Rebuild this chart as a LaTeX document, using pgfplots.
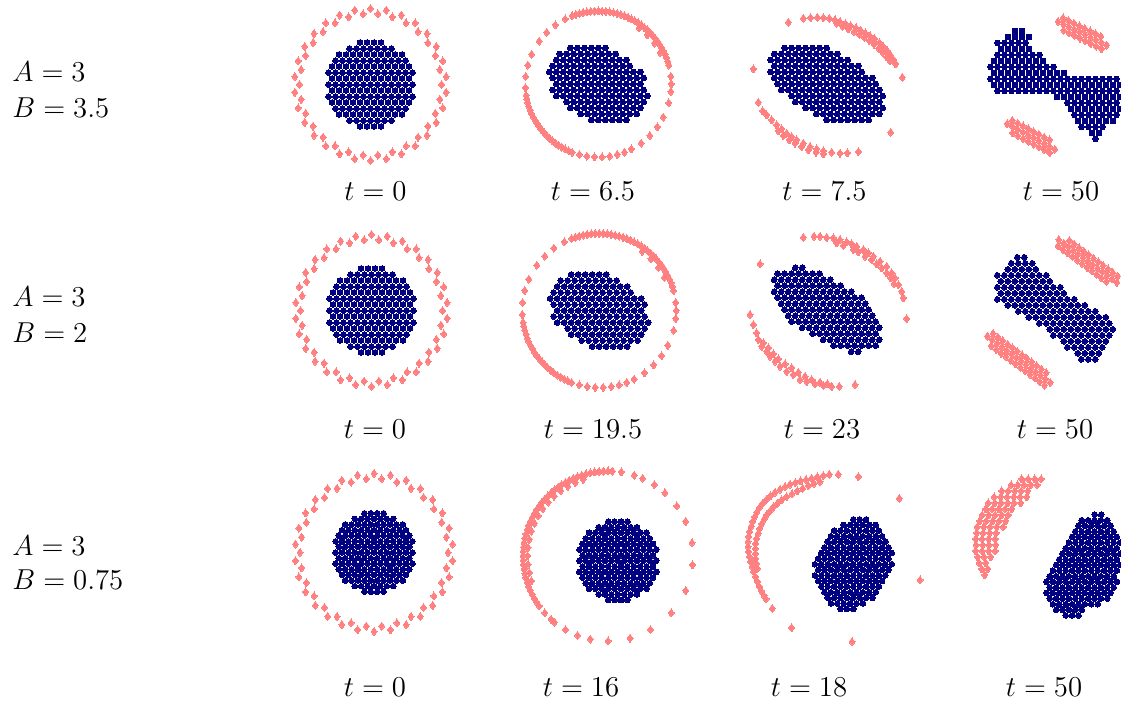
\documentclass[border=0pt]{standalone}
\usepackage{pgfplots}
\usepackage{pgfplotstable}
\pgfplotsset{compat=1.18}
\definecolor{cellblue}{RGB}{0,0,128}
\definecolor{tracerred}{RGB}{255,128,128}
\pgfplotsset{
  panel/.style={hide axis, scale only axis, x=0.5pt, y=0.5pt,
    xmin=-110, xmax=110, ymin=-110, ymax=110, clip=false, anchor=center},
  cells/.style={only marks, mark=*, mark size=1.42pt, color=cellblue, mark options={line width=0pt}},
  tracers/.style={only marks, mark=diamond*, mark size=2pt, color=tracerred, mark options={line width=0pt}},
}

% initial disk of cells (rows 1 and 2)
\pgfplotstableread[row sep=\\]{x y\\
-42 0\\ -35 0\\ -28 0\\ -21 0\\ -14 0\\ -7 0\\ 0 0\\ 7 0\\ 14 0\\ 21 0\\ 28 0\\ 35 0\\ 42 0\\
-38.5 6\\ -31.5 6\\ -24.5 6\\ -17.5 6\\ -10.5 6\\ -3.5 6\\ 3.5 6\\ 10.5 6\\ 17.5 6\\ 24.5 6\\ 31.5 6\\ 38.5 6\\
-38.5 -6\\ -31.5 -6\\ -24.5 -6\\ -17.5 -6\\ -10.5 -6\\ -3.5 -6\\ 3.5 -6\\ 10.5 -6\\ 17.5 -6\\ 24.5 -6\\ 31.5 -6\\ 38.5 -6\\
-42 12\\ -35 12\\ -28 12\\ -21 12\\ -14 12\\ -7 12\\ 0 12\\ 7 12\\ 14 12\\ 21 12\\ 28 12\\ 35 12\\ 42 12\\
-42 -12\\ -35 -12\\ -28 -12\\ -21 -12\\ -14 -12\\ -7 -12\\ 0 -12\\ 7 -12\\ 14 -12\\ 21 -12\\ 28 -12\\ 35 -12\\ 42 -12\\
-38.5 18\\ -31.5 18\\ -24.5 18\\ -17.5 18\\ -10.5 18\\ -3.5 18\\ 3.5 18\\ 10.5 18\\ 17.5 18\\ 24.5 18\\ 31.5 18\\ 38.5 18\\
-38.5 -18\\ -31.5 -18\\ -24.5 -18\\ -17.5 -18\\ -10.5 -18\\ -3.5 -18\\ 3.5 -18\\ 10.5 -18\\ 17.5 -18\\ 24.5 -18\\ 31.5 -18\\ 38.5 -18\\
-35 24\\ -28 24\\ -21 24\\ -14 24\\ -7 24\\ 0 24\\ 7 24\\ 14 24\\ 21 24\\ 28 24\\ 35 24\\
-35 -24\\ -28 -24\\ -21 -24\\ -14 -24\\ -7 -24\\ 0 -24\\ 7 -24\\ 14 -24\\ 21 -24\\ 28 -24\\ 35 -24\\
-31.5 30\\ -24.5 30\\ -17.5 30\\ -10.5 30\\ -3.5 30\\ 3.5 30\\ 10.5 30\\ 17.5 30\\ 24.5 30\\ 31.5 30\\
-31.5 -30\\ -24.5 -30\\ -17.5 -30\\ -10.5 -30\\ -3.5 -30\\ 3.5 -30\\ 10.5 -30\\ 17.5 -30\\ 24.5 -30\\ 31.5 -30\\
-21 36\\ -14 36\\ -7 36\\ 0 36\\ 7 36\\ 14 36\\ 21 36\\
-21 -36\\ -14 -36\\ -7 -36\\ 0 -36\\ 7 -36\\ 14 -36\\ 21 -36\\
-10.5 42\\ -3.5 42\\ 3.5 42\\ 10.5 42\\
-10.5 -42\\ -3.5 -42\\ 3.5 -42\\ 10.5 -42\\
}\diskA

% initial tracer ring (rows 1 and 2)
\pgfplotstableread[row sep=\\]{x y\\
71 0\\ -71 0\\ 0 76\\ 0 -76\\
75.6 7.9\\ 69.4 14.8\\ 72.3 23.5\\ 64.9 28.9\\ 65.8 38\\ 57.4 41.7\\ 56.5 50.9\\ 47.5 52.8\\ 44.7 61.5\\ 35.5 61.5\\ 30.9 69.4\\ 21.9 67.5\\ 15.8 74.3\\ 7.4 70.6\\
-75.6 7.9\\ -69.4 14.8\\ -72.3 23.5\\ -64.9 28.9\\ -65.8 38\\ -57.4 41.7\\ -56.5 50.9\\ -47.5 52.8\\ -44.7 61.5\\ -35.5 61.5\\ -30.9 69.4\\ -21.9 67.5\\ -15.8 74.3\\ -7.4 70.6\\
-75.6 -7.9\\ -69.4 -14.8\\ -72.3 -23.5\\ -64.9 -28.9\\ -65.8 -38\\ -57.4 -41.7\\ -56.5 -50.9\\ -47.5 -52.8\\ -44.7 -61.5\\ -35.5 -61.5\\ -30.9 -69.4\\ -21.9 -67.5\\ -15.8 -74.3\\ -7.4 -70.6\\
75.6 -7.9\\ 69.4 -14.8\\ 72.3 -23.5\\ 64.9 -28.9\\ 65.8 -38\\ 57.4 -41.7\\ 56.5 -50.9\\ 47.5 -52.8\\ 44.7 -61.5\\ 35.5 -61.5\\ 30.9 -69.4\\ 21.9 -67.5\\ 15.8 -74.3\\ 7.4 -70.6\\
}\ringA

% initial disk of cells (row 3)
\pgfplotstableread[row sep=\\]{x y\\
-38.4 0\\ -32 0\\ -25.6 0\\ -19.2 0\\ -12.8 0\\ -6.4 0\\ 0 0\\ 6.4 0\\ 12.8 0\\ 19.2 0\\ 25.6 0\\ 32 0\\ 38.4 0\\
-35.2 5.6\\ -28.8 5.6\\ -22.4 5.6\\ -16 5.6\\ -9.6 5.6\\ -3.2 5.6\\ 3.2 5.6\\ 9.6 5.6\\ 16 5.6\\ 22.4 5.6\\ 28.8 5.6\\ 35.2 5.6\\
-35.2 -5.6\\ -28.8 -5.6\\ -22.4 -5.6\\ -16 -5.6\\ -9.6 -5.6\\ -3.2 -5.6\\ 3.2 -5.6\\ 9.6 -5.6\\ 16 -5.6\\ 22.4 -5.6\\ 28.8 -5.6\\ 35.2 -5.6\\
-38.4 11.2\\ -32 11.2\\ -25.6 11.2\\ -19.2 11.2\\ -12.8 11.2\\ -6.4 11.2\\ 0 11.2\\ 6.4 11.2\\ 12.8 11.2\\ 19.2 11.2\\ 25.6 11.2\\ 32 11.2\\ 38.4 11.2\\
-38.4 -11.2\\ -32 -11.2\\ -25.6 -11.2\\ -19.2 -11.2\\ -12.8 -11.2\\ -6.4 -11.2\\ 0 -11.2\\ 6.4 -11.2\\ 12.8 -11.2\\ 19.2 -11.2\\ 25.6 -11.2\\ 32 -11.2\\ 38.4 -11.2\\
-35.2 16.8\\ -28.8 16.8\\ -22.4 16.8\\ -16 16.8\\ -9.6 16.8\\ -3.2 16.8\\ 3.2 16.8\\ 9.6 16.8\\ 16 16.8\\ 22.4 16.8\\ 28.8 16.8\\ 35.2 16.8\\
-35.2 -16.8\\ -28.8 -16.8\\ -22.4 -16.8\\ -16 -16.8\\ -9.6 -16.8\\ -3.2 -16.8\\ 3.2 -16.8\\ 9.6 -16.8\\ 16 -16.8\\ 22.4 -16.8\\ 28.8 -16.8\\ 35.2 -16.8\\
-32 22.4\\ -25.6 22.4\\ -19.2 22.4\\ -12.8 22.4\\ -6.4 22.4\\ 0 22.4\\ 6.4 22.4\\ 12.8 22.4\\ 19.2 22.4\\ 25.6 22.4\\ 32 22.4\\
-32 -22.4\\ -25.6 -22.4\\ -19.2 -22.4\\ -12.8 -22.4\\ -6.4 -22.4\\ 0 -22.4\\ 6.4 -22.4\\ 12.8 -22.4\\ 19.2 -22.4\\ 25.6 -22.4\\ 32 -22.4\\
-28.8 28\\ -22.4 28\\ -16 28\\ -9.6 28\\ -3.2 28\\ 3.2 28\\ 9.6 28\\ 16 28\\ 22.4 28\\ 28.8 28\\
-28.8 -28\\ -22.4 -28\\ -16 -28\\ -9.6 -28\\ -3.2 -28\\ 3.2 -28\\ 9.6 -28\\ 16 -28\\ 22.4 -28\\ 28.8 -28\\
-19.2 33.6\\ -12.8 33.6\\ -6.4 33.6\\ 0 33.6\\ 6.4 33.6\\ 12.8 33.6\\ 19.2 33.6\\
-19.2 -33.6\\ -12.8 -33.6\\ -6.4 -33.6\\ 0 -33.6\\ 6.4 -33.6\\ 12.8 -33.6\\ 19.2 -33.6\\
-9.6 39.2\\ -3.2 39.2\\ 3.2 39.2\\ 9.6 39.2\\
-9.6 -39.2\\ -3.2 -39.2\\ 3.2 -39.2\\ 9.6 -39.2\\
}\diskB

% initial tracer ring (row 3)
\pgfplotstableread[row sep=\\]{x y\\
74 0\\ -74 0\\ 0 79\\ 0 -79\\
78.6 8.3\\ 72.4 15.4\\ 75.1 24.4\\ 67.6 30.1\\ 68.4 39.5\\ 59.9 43.5\\ 58.7 52.9\\ 49.5 55\\ 46.4 63.9\\ 37 64.1\\ 32.1 72.2\\ 22.9 70.4\\ 16.4 77.3\\ 7.7 73.6\\
-78.6 8.3\\ -72.4 15.4\\ -75.1 24.4\\ -67.6 30.1\\ -68.4 39.5\\ -59.9 43.5\\ -58.7 52.9\\ -49.5 55\\ -46.4 63.9\\ -37 64.1\\ -32.1 72.2\\ -22.9 70.4\\ -16.4 77.3\\ -7.7 73.6\\
-78.6 -8.3\\ -72.4 -15.4\\ -75.1 -24.4\\ -67.6 -30.1\\ -68.4 -39.5\\ -59.9 -43.5\\ -58.7 -52.9\\ -49.5 -55\\ -46.4 -63.9\\ -37 -64.1\\ -32.1 -72.2\\ -22.9 -70.4\\ -16.4 -77.3\\ -7.7 -73.6\\
78.6 -8.3\\ 72.4 -15.4\\ 75.1 -24.4\\ 67.6 -30.1\\ 68.4 -39.5\\ 59.9 -43.5\\ 58.7 -52.9\\ 49.5 -55\\ 46.4 -63.9\\ 37 -64.1\\ 32.1 -72.2\\ 22.9 -70.4\\ 16.4 -77.3\\ 7.7 -73.6\\
}\ringB

% slightly stretched disk (t = 6.5 and t = 19.5)
\pgfplotstableread[row sep=\\]{x y\\
-28 36\\ -21 36\\ -14 36\\ -7 36\\ 0 36\\ 7 36\\
-38.5 30\\ -31.5 30\\ -24.5 30\\ -17.5 30\\ -10.5 30\\ -3.5 30\\ 3.5 30\\ 10.5 30\\ 17.5 30\\
-42 24\\ -35 24\\ -28 24\\ -21 24\\ -14 24\\ -7 24\\ 0 24\\ 7 24\\ 14 24\\ 21 24\\ 28 24\\
-45.5 18\\ -38.5 18\\ -31.5 18\\ -24.5 18\\ -17.5 18\\ -10.5 18\\ -3.5 18\\ 3.5 18\\ 10.5 18\\ 17.5 18\\ 24.5 18\\ 31.5 18\\
-49 12\\ -42 12\\ -35 12\\ -28 12\\ -21 12\\ -14 12\\ -7 12\\ 0 12\\ 7 12\\ 14 12\\ 21 12\\ 28 12\\ 35 12\\ 42 12\\
-45.5 6\\ -38.5 6\\ -31.5 6\\ -24.5 6\\ -17.5 6\\ -10.5 6\\ -3.5 6\\ 3.5 6\\ 10.5 6\\ 17.5 6\\ 24.5 6\\ 31.5 6\\ 38.5 6\\ 45.5 6\\
-42 0\\ -35 0\\ -28 0\\ -21 0\\ -14 0\\ -7 0\\ 0 0\\ 7 0\\ 14 0\\ 21 0\\ 28 0\\ 35 0\\ 42 0\\
-45.5 -6\\ -38.5 -6\\ -31.5 -6\\ -24.5 -6\\ -17.5 -6\\ -10.5 -6\\ -3.5 -6\\ 3.5 -6\\ 10.5 -6\\ 17.5 -6\\ 24.5 -6\\ 31.5 -6\\ 38.5 -6\\ 45.5 -6\\
-42 -12\\ -35 -12\\ -28 -12\\ -21 -12\\ -14 -12\\ -7 -12\\ 0 -12\\ 7 -12\\ 14 -12\\ 21 -12\\ 28 -12\\ 35 -12\\ 42 -12\\ 49 -12\\
-31.5 -18\\ -24.5 -18\\ -17.5 -18\\ -10.5 -18\\ -3.5 -18\\ 3.5 -18\\ 10.5 -18\\ 17.5 -18\\ 24.5 -18\\ 31.5 -18\\ 38.5 -18\\ 45.5 -18\\
-28 -24\\ -21 -24\\ -14 -24\\ -7 -24\\ 0 -24\\ 7 -24\\ 14 -24\\ 21 -24\\ 28 -24\\ 35 -24\\ 42 -24\\
-17.5 -30\\ -10.5 -30\\ -3.5 -30\\ 3.5 -30\\ 10.5 -30\\ 17.5 -30\\ 24.5 -30\\ 31.5 -30\\ 38.5 -30\\
-7 -36\\ 0 -36\\ 7 -36\\ 14 -36\\ 21 -36\\ 28 -36\\
}\ellA

\begin{document}
\begin{tikzpicture}
\path[use as bounding box] (0,0) rectangle (560.5pt,351pt);

% ---------------- row 1: A = 3, B = 3.5 ----------------
\begin{axis}[panel, at={(185.25pt,308.75pt)}]
\addplot[tracers] table {\ringA};
\addplot[cells] table {\diskA};
\end{axis}

\begin{axis}[panel, at={(299.15pt,309pt)}]
\addplot[tracers] table[row sep=\\] {x y\\
-26.2 68.2\\ -22.6 69.4\\ -18.9 70.5\\ -15.2 71.4\\ -11.4 72.1\\ -7.6 72.6\\ -3.8 72.9\\ 0 73\\ 3.8 72.9\\ 7.6 72.6\\ 11.4 72.1\\ 15.2 71.4\\ 18.9 70.5\\ 22.6 69.4\\ 26.2 68.2\\ 29.7 66.7\\ 33.1 65\\ 36.5 63.2\\ 39.8 61.2\\ 42.9 59.1\\ 45.9 56.7\\ 48.8 54.2\\ 51.6 51.6\\ 54.2 48.8\\ 56.7 45.9\\ 59.1 42.9\\ 61.2 39.8\\ 63.2 36.5\\ 65 33.1\\ 66.7 29.7\\ 68.2 26.2\\ 69.4 22.6\\ 70.5 18.9\\
40.8 56.1\\ 49 49\\ 56.1 40.8\\ 61.8 31.4\\
72.6 7.6\\ 73 0\\ 72.6 -7.6\\ 70.5 -18.9\\ 65 -33.1\\ 59.1 -42.9\\ 51.6 -51.6\\ 42.9 -59.1\\ 33.1 -65\\ 26.2 -68.2\\
18.9 -70.5\\ 11.4 -72.1\\ 3.8 -72.9\\ -3.8 -72.9\\ -11.4 -72.1\\ -18.9 -70.5\\
-26.2 -68.2\\ -29.7 -66.7\\ -33.1 -65\\ -36.5 -63.2\\ -39.8 -61.2\\ -42.9 -59.1\\ -45.9 -56.7\\ -48.8 -54.2\\ -51.6 -51.6\\ -54.2 -48.8\\ -56.7 -45.9\\ -59.1 -42.9\\ -61.2 -39.8\\ -63.2 -36.5\\ -65 -33.1\\ -66.7 -29.7\\ -68.2 -26.2\\ -69.4 -22.6\\ -70.5 -18.9\\ -71.4 -15.2\\ -72.1 -11.4\\
-72.9 -3.8\\ -72.6 7.6\\ -70.5 18.9\\ -66.7 29.7\\ -59.1 42.9\\ -51.6 51.6\\ -42.9 59.1\\ -33.1 65\\
};
\addplot[cells] table {\ellA};
\end{axis}

\begin{axis}[panel, at={(413.35pt,309pt)}]
\addplot[tracers] table[row sep=\\] {x y\\
-23.3 65.7\\ -16 66.3\\ -9.3 66.7\\ -3.3 66.3\\ 2.7 65.7\\ 8.3 64.3\\ 13.3 62.3\\ 18.7 60.3\\ 24 58.3\\ 29.3 56.3\\ 34 53.7\\ 38.7 51\\ 43.3 48\\ 48 45\\ 52.7 41.3\\ 56.7 37.3\\ 60.7 33\\ 64 28.7\\ 66.7 24.3\\ 69 20\\
10 60.7\\ 16 57.7\\ 21.7 55\\ 27.3 52.3\\ 32.7 49.7\\ 37.7 46.7\\ 42.7 43.3\\ 47.3 39.7\\ 52 35.7\\ 56 31.7\\ 60 27\\ 63.3 23\\
-38.3 61.7\\ -73.3 15\\ 75.7 6.7\\ 64 -48.3\\ 31.7 -67.7\\
-68.3 -18.3\\ -64 -27\\ -60 -31\\ -55 -36\\ -50 -41\\ -45 -45\\ -40 -49.3\\ -35 -52.7\\ -30 -56\\ -23.3 -59.3\\ -16.7 -62.7\\ -10 -65\\ -3.3 -67\\ 5 -68.3\\ 13.3 -69.3\\ 20.7 -69\\
-48.3 -47\\ -43.3 -51.7\\ -37.3 -56\\ -31.7 -59.3\\ -25 -62.7\\ -18.3 -66\\ -10.7 -68.3\\ -3.3 -70\\
};
\addplot[cells] table[row sep=\\] {x y\\
-42 36\\ -35 36\\ -28 36\\ -21 36\\ -14 36\\ -7 36\\ 0 36\\
-52.5 30\\ -45.5 30\\ -38.5 30\\ -31.5 30\\ -24.5 30\\ -17.5 30\\ -10.5 30\\ -3.5 30\\ 3.5 30\\ 10.5 30\\
-56 24\\ -49 24\\ -42 24\\ -35 24\\ -28 24\\ -21 24\\ -14 24\\ -7 24\\ 0 24\\ 7 24\\ 14 24\\ 21 24\\
-52.5 18\\ -45.5 18\\ -38.5 18\\ -31.5 18\\ -24.5 18\\ -17.5 18\\ -10.5 18\\ -3.5 18\\ 3.5 18\\ 10.5 18\\ 17.5 18\\ 24.5 18\\ 31.5 18\\
-56 12\\ -49 12\\ -42 12\\ -35 12\\ -28 12\\ -21 12\\ -14 12\\ -7 12\\ 0 12\\ 7 12\\ 14 12\\ 21 12\\ 28 12\\ 35 12\\
-52.5 6\\ -45.5 6\\ -38.5 6\\ -31.5 6\\ -24.5 6\\ -17.5 6\\ -10.5 6\\ -3.5 6\\ 3.5 6\\ 10.5 6\\ 17.5 6\\ 24.5 6\\ 31.5 6\\ 38.5 6\\ 45.5 6\\
-49 0\\ -42 0\\ -35 0\\ -28 0\\ -21 0\\ -14 0\\ -7 0\\ 0 0\\ 7 0\\ 14 0\\ 21 0\\ 28 0\\ 35 0\\ 42 0\\ 49 0\\
-45.5 -6\\ -38.5 -6\\ -31.5 -6\\ -24.5 -6\\ -17.5 -6\\ -10.5 -6\\ -3.5 -6\\ 3.5 -6\\ 10.5 -6\\ 17.5 -6\\ 24.5 -6\\ 31.5 -6\\ 38.5 -6\\ 45.5 -6\\ 52.5 -6\\
-35 -12\\ -28 -12\\ -21 -12\\ -14 -12\\ -7 -12\\ 0 -12\\ 7 -12\\ 14 -12\\ 21 -12\\ 28 -12\\ 35 -12\\ 42 -12\\ 49 -12\\ 56 -12\\
-31.5 -18\\ -24.5 -18\\ -17.5 -18\\ -10.5 -18\\ -3.5 -18\\ 3.5 -18\\ 10.5 -18\\ 17.5 -18\\ 24.5 -18\\ 31.5 -18\\ 38.5 -18\\ 45.5 -18\\ 52.5 -18\\
-21 -24\\ -14 -24\\ -7 -24\\ 0 -24\\ 7 -24\\ 14 -24\\ 21 -24\\ 28 -24\\ 35 -24\\ 42 -24\\ 49 -24\\ 56 -24\\
-10.5 -30\\ -3.5 -30\\ 3.5 -30\\ 10.5 -30\\ 17.5 -30\\ 24.5 -30\\ 31.5 -30\\ 38.5 -30\\ 45.5 -30\\ 52.5 -30\\
0 -36\\ 7 -36\\ 14 -36\\ 21 -36\\ 28 -36\\ 35 -36\\ 42 -36\\
};
\end{axis}

\begin{axis}[panel, at={(525pt,308.5pt)}]
\addplot[tracers] table[row sep=\\] {x y\\
8 63.5\\ 13.4 60.9\\ 18.8 58.3\\ 24.2 55.6\\ 29.6 53\\ 35 50.4\\ 40.4 47.8\\ 45.8 45.1\\ 51.2 42.5\\ 56.6 39.9\\
13.1 67.1\\ 18.5 64.5\\ 23.9 61.9\\ 29.3 59.2\\ 34.7 56.6\\ 40.1 54\\ 45.5 51.3\\ 50.9 48.7\\
13.7 54.7\\ 19.1 52.1\\ 24.5 49.4\\ 29.9 46.8\\ 35.3 44.2\\ 40.7 41.5\\ 46.1 38.9\\ 51.5 36.3\\
-42.8 -38.8\\ -37.5 -41.6\\ -32.3 -44.5\\ -27 -47.3\\ -21.7 -50.1\\ -16.4 -52.9\\ -11.1 -55.7\\ -5.8 -58.5\\ -0.5 -61.4\\ 4.8 -64.2\\
-37.6 -35.4\\ -32.3 -38.2\\ -27 -41\\ -21.7 -43.8\\ -16.4 -46.6\\ -11.1 -49.4\\ -5.8 -52.2\\ -0.5 -55\\
-37.5 -48\\ -32.2 -50.8\\ -26.9 -53.6\\ -21.6 -56.4\\ -16.3 -59.2\\ -11 -62\\ -5.7 -64.8\\ -0.4 -67.7\\
};
\addplot[cells] table[row sep=\\] {x y\\
-35 54\\ -28 54\\
-42 48\\ -35 48\\ -28 48\\ -21 48\\
-52.5 42\\ -45.5 42\\ -38.5 42\\ -31.5 42\\ -24.5 42\\
-49 36\\ -42 36\\ -35 36\\ -28 36\\ -21 36\\
-52.5 30\\ -45.5 30\\ -38.5 30\\ -31.5 30\\ -24.5 30\\ -17.5 30\\ -10.5 30\\
-56 24\\ -49 24\\ -42 24\\ -35 24\\ -28 24\\ -21 24\\ -14 24\\ -7 24\\
-59.5 18\\ -52.5 18\\ -45.5 18\\ -38.5 18\\ -31.5 18\\ -24.5 18\\ -17.5 18\\ -10.5 18\\ -3.5 18\\ 3.5 18\\
-56 12\\ -49 12\\ -42 12\\ -35 12\\ -28 12\\ -21 12\\ -14 12\\ -7 12\\ 0 12\\ 7 12\\ 14 12\\
-59.5 6\\ -52.5 6\\ -45.5 6\\ -38.5 6\\ -31.5 6\\ -24.5 6\\ -17.5 6\\ -10.5 6\\ -3.5 6\\ 3.5 6\\ 10.5 6\\ 17.5 6\\ 24.5 6\\ 31.5 6\\ 38.5 6\\ 45.5 6\\ 52.5 6\\ 59.5 6\\ 66.5 6\\
-56 0\\ -49 0\\ -42 0\\ -35 0\\ -28 0\\ -21 0\\ -14 0\\ -7 0\\ 0 0\\ 7 0\\ 14 0\\ 21 0\\ 28 0\\ 35 0\\ 42 0\\ 49 0\\ 56 0\\ 63 0\\ 70 0\\
-52.5 -6\\ -45.5 -6\\ -38.5 -6\\ -31.5 -6\\ -24.5 -6\\ -17.5 -6\\ -10.5 -6\\ -3.5 -6\\ 3.5 -6\\ 10.5 -6\\ 17.5 -6\\ 24.5 -6\\ 31.5 -6\\ 38.5 -6\\ 45.5 -6\\ 52.5 -6\\ 59.5 -6\\ 66.5 -6\\
7 -12\\ 14 -12\\ 21 -12\\ 28 -12\\ 35 -12\\ 42 -12\\ 49 -12\\ 56 -12\\ 63 -12\\ 70 -12\\
17.5 -18\\ 24.5 -18\\ 31.5 -18\\ 38.5 -18\\ 45.5 -18\\ 52.5 -18\\ 59.5 -18\\ 66.5 -18\\
21 -24\\ 28 -24\\ 35 -24\\ 42 -24\\ 49 -24\\ 56 -24\\ 63 -24\\ 70 -24\\
24.5 -30\\ 31.5 -30\\ 38.5 -30\\ 45.5 -30\\ 52.5 -30\\ 59.5 -30\\ 66.5 -30\\
28 -36\\ 35 -36\\ 42 -36\\ 49 -36\\ 56 -36\\ 63 -36\\
31.5 -42\\ 38.5 -42\\ 45.5 -42\\ 52.5 -42\\
42 -48\\ 49 -48\\
45.5 -54\\
};
\end{axis}

% ---------------- row 2: A = 3, B = 2 ----------------
\begin{axis}[panel, at={(185.75pt,195.75pt)}]
\addplot[tracers] table {\ringA};
\addplot[cells] table {\diskA};
\end{axis}

\begin{axis}[panel, at={(299.6pt,195.75pt)}]
\addplot[tracers] table[row sep=\\] {x y\\
-27.6 72\\ -23.8 73.2\\ -19.9 74.4\\ -16 75.3\\ -12 76.1\\ -8 76.6\\ -4 76.9\\ 0 77\\ 4 76.9\\ 8 76.6\\ 12 76.1\\ 16 75.3\\ 19.9 74.4\\ 23.8 73.2\\ 27.6 72\\ 31.3 70.4\\ 34.9 68.6\\ 38.5 66.7\\ 42 64.6\\ 45.3 62.4\\ 48.4 59.8\\ 51.5 57.2\\ 54.4 54.4\\ 57.2 51.5\\ 59.8 48.4\\ 62.4 45.3\\ 64.6 42\\ 66.7 38.5\\ 68.6 34.9\\ 70.4 31.3\\ 72 27.6\\ 73.2 23.8\\ 74.4 19.9\\
43 59.2\\ 51.7 51.7\\ 59.2 43\\ 65.2 33.1\\
76.6 8\\ 77 0\\ 76.6 -8\\ 74.4 -19.9\\ 68.6 -34.9\\ 62.4 -45.3\\ 54.4 -54.4\\ 45.3 -62.4\\ 34.9 -68.6\\ 27.6 -72\\
19.9 -74.4\\ 12 -76.1\\ 4 -76.9\\ -4 -76.9\\ -12 -76.1\\ -19.9 -74.4\\
-27.6 -72\\ -31.3 -70.4\\ -34.9 -68.6\\ -38.5 -66.7\\ -42 -64.6\\ -45.3 -62.4\\ -48.4 -59.8\\ -51.5 -57.2\\ -54.4 -54.4\\ -57.2 -51.5\\ -59.8 -48.4\\ -62.4 -45.3\\ -64.6 -42\\ -66.7 -38.5\\ -68.6 -34.9\\ -70.4 -31.3\\ -72 -27.6\\ -73.2 -23.8\\ -74.4 -19.9\\ -75.3 -16\\ -76.1 -12\\
-76.9 -4\\ -76.6 8\\ -74.4 19.9\\ -70.4 31.3\\ -62.4 45.3\\ -54.4 54.4\\ -45.3 62.4\\ -34.9 68.6\\
};
\addplot[cells] table {\ellA};
\end{axis}

\begin{axis}[panel, at={(413.35pt,196.15pt)}]
\addplot[tracers] table[row sep=\\] {x y\\
-23.3 72.3\\ -12.7 73.3\\ -6.7 73.3\\ 0 72.3\\ 6.7 71.7\\ 13.3 70\\ 20 67.7\\ 25 65.7\\ 30 63.3\\ 36.7 60\\ 41.7 56.7\\ 46.7 53.3\\ 53.3 48.3\\ 60 43.3\\ 65 36.7\\ 68.3 31.7\\ 71.7 25\\ 75 18.3\\ 76.7 11.7\\
10 66.7\\ 16.7 64.3\\ 26.7 60\\ 31.7 57.7\\ 38.3 53.3\\ 45 50\\ 50 45.7\\ 55 41.7\\ 60 36.7\\ 64 31.7\\ 67.3 26\\
-66.7 45.7\\ -76.7 -5\\ 80 -9\\ 28.3 -75\\
-73.3 -15\\ -70 -23.3\\ -68.3 -30\\ -65 -36.7\\ -60 -41.7\\ -56.7 -46.7\\ -51.7 -51.7\\ -46.7 -56.7\\ -40 -61.7\\ -33.3 -65\\ -26.7 -70\\ -20 -71.7\\ -11.7 -74.3\\ -3.3 -75.7\\ 5 -76.7\\ 12.7 -76.7\\
-63.3 -33.3\\ -58.3 -38.3\\ -53.3 -44.3\\ -48.3 -49.3\\ -41.7 -54.3\\ -35 -58.3\\ -28.3 -62.7\\ -21.7 -66.7\\ -15 -70\\ -6.7 -72.7\\ 0.7 -74.3\\
};
\addplot[cells] table[row sep=\\] {x y\\
-31.5 42\\ -24.5 42\\
-49 36\\ -42 36\\ -35 36\\ -28 36\\ -21 36\\ -14 36\\ -7 36\\
-52.5 30\\ -45.5 30\\ -38.5 30\\ -31.5 30\\ -24.5 30\\ -17.5 30\\ -10.5 30\\ -3.5 30\\ 3.5 30\\
-49 24\\ -42 24\\ -35 24\\ -28 24\\ -21 24\\ -14 24\\ -7 24\\ 0 24\\ 7 24\\ 14 24\\
-52.5 18\\ -45.5 18\\ -38.5 18\\ -31.5 18\\ -24.5 18\\ -17.5 18\\ -10.5 18\\ -3.5 18\\ 3.5 18\\ 10.5 18\\ 17.5 18\\ 24.5 18\\
-49 12\\ -42 12\\ -35 12\\ -28 12\\ -21 12\\ -14 12\\ -7 12\\ 0 12\\ 7 12\\ 14 12\\ 21 12\\ 28 12\\ 35 12\\
-45.5 6\\ -38.5 6\\ -31.5 6\\ -24.5 6\\ -17.5 6\\ -10.5 6\\ -3.5 6\\ 3.5 6\\ 10.5 6\\ 17.5 6\\ 24.5 6\\ 31.5 6\\ 38.5 6\\
-42 0\\ -35 0\\ -28 0\\ -21 0\\ -14 0\\ -7 0\\ 0 0\\ 7 0\\ 14 0\\ 21 0\\ 28 0\\ 35 0\\ 42 0\\
-38.5 -6\\ -31.5 -6\\ -24.5 -6\\ -17.5 -6\\ -10.5 -6\\ -3.5 -6\\ 3.5 -6\\ 10.5 -6\\ 17.5 -6\\ 24.5 -6\\ 31.5 -6\\ 38.5 -6\\ 45.5 -6\\
-35 -12\\ -28 -12\\ -21 -12\\ -14 -12\\ -7 -12\\ 0 -12\\ 7 -12\\ 14 -12\\ 21 -12\\ 28 -12\\ 35 -12\\ 42 -12\\ 49 -12\\
-24.5 -18\\ -17.5 -18\\ -10.5 -18\\ -3.5 -18\\ 3.5 -18\\ 10.5 -18\\ 17.5 -18\\ 24.5 -18\\ 31.5 -18\\ 38.5 -18\\ 45.5 -18\\ 52.5 -18\\
-14 -24\\ -7 -24\\ 0 -24\\ 7 -24\\ 14 -24\\ 21 -24\\ 28 -24\\ 35 -24\\ 42 -24\\ 49 -24\\
-3.5 -30\\ 3.5 -30\\ 10.5 -30\\ 17.5 -30\\ 24.5 -30\\ 31.5 -30\\ 38.5 -30\\ 45.5 -30\\ 52.5 -30\\
7 -36\\ 14 -36\\ 21 -36\\ 28 -36\\ 35 -36\\ 42 -36\\ 49 -36\\
24.5 -42\\ 31.5 -42\\
};
\end{axis}

\begin{axis}[panel, at={(526.65pt,195.35pt)}]
\addplot[tracers] table[row sep=\\] {x y\\
5.5 71.6\\ 10.4 68.1\\ 15.2 64.5\\ 20 61\\ 24.8 57.4\\ 29.7 53.9\\ 34.5 50.3\\ 39.3 46.7\\ 44.2 43.2\\ 49 39.6\\ 53.8 36.1\\ 58.7 32.5\\ 63.5 29\\
16 70.7\\ 20.9 67.2\\ 25.7 63.6\\ 30.5 60.1\\ 35.3 56.5\\ 40.2 53\\ 45 49.4\\ 49.8 45.8\\ 54.7 42.3\\ 59.5 38.7\\ 64.3 35.2\\
4.7 65.4\\ 9.5 61.9\\ 14.3 58.3\\ 19.2 54.8\\ 24 51.2\\ 28.8 47.7\\ 33.7 44.1\\ 38.5 40.5\\ 43.3 37\\ 48.1 33.4\\ 53 29.9\\
-65.9 -24.9\\ -61.1 -28.4\\ -56.2 -32\\ -51.4 -35.5\\ -46.6 -39.1\\ -41.7 -42.7\\ -36.9 -46.2\\ -32.1 -49.8\\ -27.3 -53.3\\ -22.4 -56.9\\ -17.6 -60.5\\ -12.8 -64\\ -7.9 -67.6\\ -3.1 -71.1\\
-60.2 -22.2\\ -55.4 -25.8\\ -50.6 -29.3\\ -45.7 -32.9\\ -40.9 -36.5\\ -36.1 -40\\ -31.2 -43.6\\ -26.4 -47.1\\ -21.6 -50.7\\ -16.8 -54.2\\ -11.9 -57.8\\ -7.1 -61.4\\
-61.9 -34.6\\ -57.1 -38.2\\ -52.3 -41.8\\ -47.4 -45.3\\ -42.6 -48.9\\ -37.8 -52.4\\ -32.9 -56\\ -28.1 -59.6\\ -23.3 -63.1\\ -18.4 -66.7\\ -13.6 -70.2\\ -8.8 -73.8\\
};
\addplot[cells] table[row sep=\\] {x y\\
-36 54\\ -29 54\\
-42 48\\ -35 48\\ -28 48\\ -21 48\\
-45.5 42\\ -38.5 42\\ -31.5 42\\ -24.5 42\\ -17.5 42\\
-56 36\\ -49 36\\ -42 36\\ -35 36\\ -28 36\\ -21 36\\ -14 36\\ -7 36\\
-52.5 30\\ -45.5 30\\ -38.5 30\\ -31.5 30\\ -24.5 30\\ -17.5 30\\ -10.5 30\\ -3.5 30\\
-56 24\\ -49 24\\ -42 24\\ -35 24\\ -28 24\\ -21 24\\ -14 24\\ -7 24\\ 0 24\\ 7 24\\
-52.5 18\\ -45.5 18\\ -38.5 18\\ -31.5 18\\ -24.5 18\\ -17.5 18\\ -10.5 18\\ -3.5 18\\ 3.5 18\\ 10.5 18\\
-56 12\\ -49 12\\ -42 12\\ -35 12\\ -28 12\\ -21 12\\ -14 12\\ -7 12\\ 0 12\\ 7 12\\ 14 12\\ 21 12\\
-45.5 6\\ -38.5 6\\ -31.5 6\\ -24.5 6\\ -17.5 6\\ -10.5 6\\ -3.5 6\\ 3.5 6\\ 10.5 6\\ 17.5 6\\ 24.5 6\\ 31.5 6\\
-35 0\\ -28 0\\ -21 0\\ -14 0\\ -7 0\\ 0 0\\ 7 0\\ 14 0\\ 21 0\\ 28 0\\ 35 0\\ 42 0\\
-24.5 -6\\ -17.5 -6\\ -10.5 -6\\ -3.5 -6\\ 3.5 -6\\ 10.5 -6\\ 17.5 -6\\ 24.5 -6\\ 31.5 -6\\ 38.5 -6\\ 45.5 -6\\ 52.5 -6\\
-14 -12\\ -7 -12\\ 0 -12\\ 7 -12\\ 14 -12\\ 21 -12\\ 28 -12\\ 35 -12\\ 42 -12\\ 49 -12\\ 56 -12\\
-3.5 -18\\ 3.5 -18\\ 10.5 -18\\ 17.5 -18\\ 24.5 -18\\ 31.5 -18\\ 38.5 -18\\ 45.5 -18\\ 52.5 -18\\ 59.5 -18\\
0 -24\\ 7 -24\\ 14 -24\\ 21 -24\\ 28 -24\\ 35 -24\\ 42 -24\\ 49 -24\\ 56 -24\\
10.5 -30\\ 17.5 -30\\ 24.5 -30\\ 31.5 -30\\ 38.5 -30\\ 45.5 -30\\ 52.5 -30\\
14 -36\\ 21 -36\\ 28 -36\\ 35 -36\\ 42 -36\\ 49 -36\\
24.5 -42\\ 31.5 -42\\ 38.5 -42\\ 45.5 -42\\
28 -48\\ 35 -48\\ 42 -48\\
};
\end{axis}

% ---------------- row 3: A = 3, B = 0.75 ----------------
\begin{axis}[panel, at={(187pt,74.75pt)}]
\addplot[tracers] table {\ringB};
\addplot[cells] table {\diskB};
\end{axis}

\begin{axis}[panel, at={(308.9pt,70.6pt)}]
\addplot[tracers] table[row sep=\\] {x y\\
-5.4 89.7\\ -9.8 89.8\\ -14.3 89.7\\ -18.7 89.3\\ -23.1 88.8\\ -27.5 88\\ -31.8 86.9\\ -36.1 85.6\\ -40.3 84.2\\ -44.4 82.5\\ -48.4 80.5\\ -52.3 78.4\\ -56.1 76.1\\ -59.8 73.6\\ -63.3 70.9\\ -66.7 68\\ -69.9 64.9\\ -73 61.7\\ -75.9 58.3\\ -78.6 54.8\\ -81.1 51.1\\ -83.4 47.3\\ -85.5 43.4\\ -87.5 39.4\\ -89.2 35.3\\ -90.6 31.1\\ -91.9 26.8\\ -92.9 22.5\\ -93.8 18.1\\ -94.3 13.7\\ -94.7 9.3\\ -94.8 4.8\\ -94.7 0.4\\ -94.3 -4.1\\ -93.8 -8.5\\ -92.9 -12.9\\ -91.9 -17.2\\ -90.6 -21.5\\ -89.2 -25.7\\ -87.5 -29.8\\ -85.5 -33.8\\ -83.4 -37.7\\ -81.1 -41.5\\ -78.6 -45.2\\
-34.7 81.4\\ -42.5 78.3\\ -50 74.5\\ -57.1 69.9\\ -63.7 64.6\\ -69.6 58.7\\ -74.9 52.1\\ -79.5 45\\ -83.3 37.5\\ -86.4 29.7\\ -88.5 21.5\\ -89.8 13.2\\ -90.3 4.8\\ -89.8 -3.6\\ -88.5 -11.9\\ -86.4 -20.1\\
-73 -52.1\\ -66.7 -58.4\\ -63.3 -61.3\\ -52.3 -68.8\\ -40.3 -74.6\\ -27.5 -78.3\\ -9.8 -80.2\\ 12.2 -77.3\\ 32.7 -68.8\\ 53.4 -52.1\\ 67.9 -29.8\\ 74.7 -4.1\\ 74.2 18.1\\ 67.9 39.4\\ 59 54.8\\ 47.1 68\\ 36.5 76.1\\ 24.8 82.5\\ 16.5 85.6\\ 3.5 88.8\\
};
\addplot[cells] table {\diskB};
\end{axis}

\begin{axis}[panel, at={(426.65pt,68.9pt)}]
\addplot[tracers] table[row sep=\\] {x y\\
-24 89.8\\ -30 88.5\\ -36 87.2\\ -41.7 85.8\\ -47.3 84.5\\ -52.7 83.2\\ -58 81.5\\ -63.3 79.8\\ -68.3 77.5\\ -73.3 74.8\\ -78.3 71.8\\ -82.7 68.5\\ -86.7 64.8\\ -90.7 60.8\\ -94 56.5\\ -96.7 51.8\\ -98.7 47.2\\ -100.7 42.5\\ -102.3 37.5\\ -103.7 32.5\\ -104.7 27.5\\ -105.3 22.5\\ -105.3 17.5\\ -105 12.5\\ -104 7.5\\ -102.7 2.5\\ -101.3 -2.5\\ -99.7 -7.5\\ -98 -12.5\\ -96 -17.5\\ -94 -22.5\\ -92 -26.8\\ -89.3 -31.5\\
-33.3 82.5\\ -39.3 80.8\\ -45 78.5\\ -50.7 75.8\\ -56 73.2\\ -61.3 70.5\\ -66.7 67.5\\ -71.7 64.2\\ -76 60.8\\ -80 57.2\\ -83.3 53.2\\ -86.7 49.2\\ -89.3 44.8\\ -91.7 40.2\\ -93.7 35.5\\ -95.3 30.5\\ -96.7 25.5\\ -97.7 20.5\\ -98 15.5\\ -98 10.5\\ -97.7 5.5\\ -97 0.5\\ -96 -4.5\\
-15 89.8\\ 5 87.5\\ 46 65.8\\ 66.7 -15.8\\ -87.3 -34.8\\ -81 -44.2\\ -61.7 -63.5\\ -1.3 -77.5\\
};
\addplot[cells] table[row sep=\\] {x y\\
0 44.8\\ 6.4 44.8\\ 12.8 44.8\\
-9.6 39.2\\ -3.2 39.2\\ 3.2 39.2\\ 9.6 39.2\\ 16 39.2\\ 22.4 39.2\\
-19.2 33.6\\ -12.8 33.6\\ -6.4 33.6\\ 0 33.6\\ 6.4 33.6\\ 12.8 33.6\\ 19.2 33.6\\ 25.6 33.6\\
-22.4 28\\ -16 28\\ -9.6 28\\ -3.2 28\\ 3.2 28\\ 9.6 28\\ 16 28\\ 22.4 28\\ 28.8 28\\
-25.6 22.4\\ -19.2 22.4\\ -12.8 22.4\\ -6.4 22.4\\ 0 22.4\\ 6.4 22.4\\ 12.8 22.4\\ 19.2 22.4\\ 25.6 22.4\\ 32 22.4\\
-28.8 16.8\\ -22.4 16.8\\ -16 16.8\\ -9.6 16.8\\ -3.2 16.8\\ 3.2 16.8\\ 9.6 16.8\\ 16 16.8\\ 22.4 16.8\\ 28.8 16.8\\ 35.2 16.8\\
-32 11.2\\ -25.6 11.2\\ -19.2 11.2\\ -12.8 11.2\\ -6.4 11.2\\ 0 11.2\\ 6.4 11.2\\ 12.8 11.2\\ 19.2 11.2\\ 25.6 11.2\\ 32 11.2\\ 38.4 11.2\\
-35.2 5.6\\ -28.8 5.6\\ -22.4 5.6\\ -16 5.6\\ -9.6 5.6\\ -3.2 5.6\\ 3.2 5.6\\ 9.6 5.6\\ 16 5.6\\ 22.4 5.6\\ 28.8 5.6\\ 35.2 5.6\\
-38.4 0\\ -32 0\\ -25.6 0\\ -19.2 0\\ -12.8 0\\ -6.4 0\\ 0 0\\ 6.4 0\\ 12.8 0\\ 19.2 0\\ 25.6 0\\ 32 0\\ 38.4 0\\
-35.2 -5.6\\ -28.8 -5.6\\ -22.4 -5.6\\ -16 -5.6\\ -9.6 -5.6\\ -3.2 -5.6\\ 3.2 -5.6\\ 9.6 -5.6\\ 16 -5.6\\ 22.4 -5.6\\ 28.8 -5.6\\ 35.2 -5.6\\
-38.4 -11.2\\ -32 -11.2\\ -25.6 -11.2\\ -19.2 -11.2\\ -12.8 -11.2\\ -6.4 -11.2\\ 0 -11.2\\ 6.4 -11.2\\ 12.8 -11.2\\ 19.2 -11.2\\ 25.6 -11.2\\ 32 -11.2\\
-35.2 -16.8\\ -28.8 -16.8\\ -22.4 -16.8\\ -16 -16.8\\ -9.6 -16.8\\ -3.2 -16.8\\ 3.2 -16.8\\ 9.6 -16.8\\ 16 -16.8\\ 22.4 -16.8\\ 28.8 -16.8\\
-32 -22.4\\ -25.6 -22.4\\ -19.2 -22.4\\ -12.8 -22.4\\ -6.4 -22.4\\ 0 -22.4\\ 6.4 -22.4\\ 12.8 -22.4\\ 19.2 -22.4\\ 25.6 -22.4\\
-28.8 -28\\ -22.4 -28\\ -16 -28\\ -9.6 -28\\ -3.2 -28\\ 3.2 -28\\ 9.6 -28\\ 16 -28\\ 22.4 -28\\
-25.6 -33.6\\ -19.2 -33.6\\ -12.8 -33.6\\ -6.4 -33.6\\ 0 -33.6\\ 6.4 -33.6\\ 12.8 -33.6\\ 19.2 -33.6\\
-22.4 -39.2\\ -16 -39.2\\ -9.6 -39.2\\ -3.2 -39.2\\ 3.2 -39.2\\ 9.6 -39.2\\
-12.8 -44.8\\ -6.4 -44.8\\ 0 -44.8\\
};
\end{axis}

\begin{axis}[panel, at={(540.85pt,68.5pt)}]
\addplot[tracers] table[row sep=\\] {x y\\
-60 86\\ -53.5 86\\ -47 86\\ -40.5 86\\
-70.5 80\\ -64 80\\ -57.5 80\\ -51 80\\ -44.5 80\\
-80 74\\ -73.5 74\\ -67 74\\ -60.5 74\\ -54 74\\
-87.5 68\\ -81 68\\ -74.5 68\\ -68 68\\ -61.5 68\\ -55 68\\
-93.5 62\\ -87 62\\ -80.5 62\\ -74 62\\ -67.5 62\\ -61 62\\
-96 56\\ -89.5 56\\ -83 56\\ -76.5 56\\ -70 56\\
-99.5 50\\ -93 50\\ -86.5 50\\ -80 50\\ -73.5 50\\
-102 44\\ -95.5 44\\ -89 44\\ -82.5 44\\ -76 44\\
-104.5 38\\ -98 38\\ -91.5 38\\ -85 38\\ -78.5 38\\
-105 32\\ -98.5 32\\ -92 32\\ -85.5 32\\
-106 26\\ -99.5 26\\ -93 26\\ -86.5 26\\
-105.5 20\\ -99 20\\ -92.5 20\\ -86 20\\
-106 14\\ -99.5 14\\ -93 14\\ -86.5 14\\
-104 8\\ -97.5 8\\ -91 8\\
-102.5 2\\ -96 2\\
-100 -4\\ -94 -4\\
-97 -10\\
};
\addplot[cells] table[row sep=\\] {x y\\
13 50.4\\ 19.5 50.4\\
0 44.8\\ 6.4 44.8\\ 12.8 44.8\\ 19.2 44.8\\ 25.6 44.8\\
-3.2 39.2\\ 3.2 39.2\\ 9.6 39.2\\ 16 39.2\\ 22.4 39.2\\ 28.8 39.2\\
-6.4 33.6\\ 0 33.6\\ 6.4 33.6\\ 12.8 33.6\\ 19.2 33.6\\ 25.6 33.6\\ 32 33.6\\
-9.6 28\\ -3.2 28\\ 3.2 28\\ 9.6 28\\ 16 28\\ 22.4 28\\ 28.8 28\\ 35.2 28\\
-12.8 22.4\\ -6.4 22.4\\ 0 22.4\\ 6.4 22.4\\ 12.8 22.4\\ 19.2 22.4\\ 25.6 22.4\\ 32 22.4\\ 38.4 22.4\\
-16 16.8\\ -9.6 16.8\\ -3.2 16.8\\ 3.2 16.8\\ 9.6 16.8\\ 16 16.8\\ 22.4 16.8\\ 28.8 16.8\\ 35.2 16.8\\
-19.2 11.2\\ -12.8 11.2\\ -6.4 11.2\\ 0 11.2\\ 6.4 11.2\\ 12.8 11.2\\ 19.2 11.2\\ 25.6 11.2\\ 32 11.2\\ 38.4 11.2\\
-22.4 5.6\\ -16 5.6\\ -9.6 5.6\\ -3.2 5.6\\ 3.2 5.6\\ 9.6 5.6\\ 16 5.6\\ 22.4 5.6\\ 28.8 5.6\\ 35.2 5.6\\
-25.6 0\\ -19.2 0\\ -12.8 0\\ -6.4 0\\ 0 0\\ 6.4 0\\ 12.8 0\\ 19.2 0\\ 25.6 0\\ 32 0\\ 38.4 0\\
-28.8 -5.6\\ -22.4 -5.6\\ -16 -5.6\\ -9.6 -5.6\\ -3.2 -5.6\\ 3.2 -5.6\\ 9.6 -5.6\\ 16 -5.6\\ 22.4 -5.6\\ 28.8 -5.6\\ 35.2 -5.6\\
-32 -11.2\\ -25.6 -11.2\\ -19.2 -11.2\\ -12.8 -11.2\\ -6.4 -11.2\\ 0 -11.2\\ 6.4 -11.2\\ 12.8 -11.2\\ 19.2 -11.2\\ 25.6 -11.2\\ 32 -11.2\\
-35.2 -16.8\\ -28.8 -16.8\\ -22.4 -16.8\\ -16 -16.8\\ -9.6 -16.8\\ -3.2 -16.8\\ 3.2 -16.8\\ 9.6 -16.8\\ 16 -16.8\\ 22.4 -16.8\\ 28.8 -16.8\\ 35.2 -16.8\\
-32 -22.4\\ -25.6 -22.4\\ -19.2 -22.4\\ -12.8 -22.4\\ -6.4 -22.4\\ 0 -22.4\\ 6.4 -22.4\\ 12.8 -22.4\\ 19.2 -22.4\\ 25.6 -22.4\\ 32 -22.4\\
-35.2 -28\\ -28.8 -28\\ -22.4 -28\\ -16 -28\\ -9.6 -28\\ -3.2 -28\\ 3.2 -28\\ 9.6 -28\\ 16 -28\\ 22.4 -28\\ 28.8 -28\\
-32 -33.6\\ -25.6 -33.6\\ -19.2 -33.6\\ -12.8 -33.6\\ -6.4 -33.6\\ 0 -33.6\\ 6.4 -33.6\\ 12.8 -33.6\\ 19.2 -33.6\\ 25.6 -33.6\\
-28.8 -39.2\\ -22.4 -39.2\\ -16 -39.2\\ -9.6 -39.2\\ -3.2 -39.2\\ 3.2 -39.2\\ 9.6 -39.2\\ 16 -39.2\\
-25.6 -44.8\\ -19.2 -44.8\\ -12.8 -44.8\\ -6.4 -44.8\\ 0 -44.8\\
-16 -50.4\\ -9.6 -50.4\\ -3.2 -50.4\\
};
\end{axis}

% ---------------- row and panel labels ----------------
\begin{scope}[every node/.style={font=\Large, inner sep=0pt}]
\node[anchor=base west] at (6pt,310pt) {$A=3$};
\node[anchor=base west] at (6pt,292pt) {$B=3.5$};
\node[anchor=base west] at (6pt,197.5pt) {$A=3$};
\node[anchor=base west] at (6pt,179.5pt) {$B=2$};
\node[anchor=base west] at (6pt,73pt) {$A=3$};
\node[anchor=base west] at (6pt,56pt) {$B=0.75$};

\node[anchor=base] at (187.75pt,250.5pt) {$t=0$};
\node[anchor=base] at (296.5pt,250.5pt) {$t=6.5$};
\node[anchor=base] at (412.25pt,250.5pt) {$t=7.5$};
\node[anchor=base] at (530.5pt,250.5pt) {$t=50$};

\node[anchor=base] at (187.5pt,131.5pt) {$t=0$};
\node[anchor=base] at (296.5pt,131.5pt) {$t=19.5$};
\node[anchor=base] at (411pt,131.5pt) {$t=23$};
\node[anchor=base] at (527.5pt,131.5pt) {$t=50$};

\node[anchor=base] at (187.5pt,2.5pt) {$t=0$};
\node[anchor=base] at (290.5pt,2.5pt) {$t=16$};
\node[anchor=base] at (404.5pt,2.5pt) {$t=18$};
\node[anchor=base] at (522pt,2.5pt) {$t=50$};
\end{scope}
\end{tikzpicture}
\end{document}
